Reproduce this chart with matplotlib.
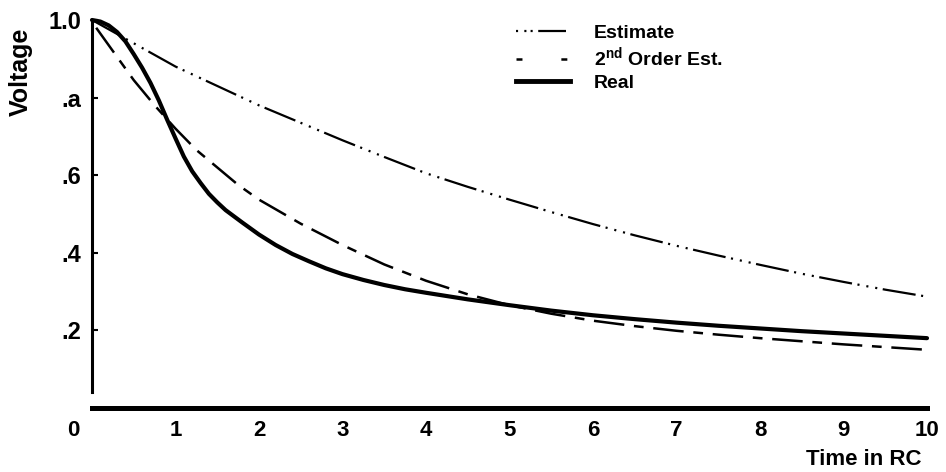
import matplotlib
matplotlib.use("Agg")
import matplotlib.pyplot as plt
from matplotlib.lines import Line2D

plt.rcParams['font.family'] = ['Liberation Sans', 'DejaVu Sans']
plt.rcParams['font.weight'] = 'bold'
plt.rcParams['axes.labelweight'] = 'bold'
plt.rcParams['mathtext.fontset'] = 'custom'
plt.rcParams['mathtext.bf'] = 'Liberation Sans:bold'
plt.rcParams['mathtext.rm'] = 'Liberation Sans:bold'
plt.rcParams['lines.scale_dashes'] = False

# curves (time in RC, voltage)
t_est = [0.0, 0.5, 1.0, 1.5, 2.0, 2.5, 3.0, 3.5, 4.0, 4.5, 5.0, 5.5, 6.0, 6.5,
         7.0, 7.5, 8.0, 8.5, 9.0, 9.5, 10.0]
v_est = [1.0, 0.94, 0.88, 0.83, 0.78, 0.735, 0.69, 0.647, 0.605, 0.57, 0.537,
         0.505, 0.474, 0.445, 0.418, 0.393, 0.369, 0.346, 0.325, 0.305, 0.287]

t_2nd = [0.05, 0.25, 0.5, 0.75, 1.0, 1.25, 1.5, 1.75, 2.0, 2.5, 3.0, 3.5, 4.0,
         4.5, 5.0, 5.5, 6.0, 6.5, 7.0, 7.5, 8.0, 8.5, 9.0, 9.5, 10.0]
v_2nd = [0.98, 0.92, 0.845, 0.78, 0.72, 0.665, 0.62, 0.575, 0.537, 0.475, 0.42,
         0.37, 0.328, 0.293, 0.265, 0.243, 0.225, 0.211, 0.199, 0.189, 0.18,
         0.172, 0.164, 0.157, 0.15]

t_real = [0.0, 0.1, 0.2, 0.3, 0.4, 0.5, 0.6, 0.7, 0.8, 0.9, 1.0, 1.1, 1.2, 1.3,
          1.4, 1.5, 1.6, 1.8, 2.0, 2.2, 2.4, 2.6, 2.8, 3.0, 3.25, 3.5, 3.75,
          4.0, 4.5, 5.0, 5.5, 6.0, 6.5, 7.0, 7.5, 8.0, 8.5, 9.0, 9.5, 10.0]
v_real = [1.0, 0.996, 0.986, 0.969, 0.945, 0.912, 0.877, 0.838, 0.793, 0.743, 0.695,
          0.648, 0.61, 0.58, 0.552, 0.53, 0.51, 0.478, 0.447, 0.42, 0.397,
          0.378, 0.36, 0.345, 0.33, 0.317, 0.306, 0.297, 0.28, 0.265, 0.251,
          0.239, 0.229, 0.22, 0.212, 0.205, 0.198, 0.192, 0.186, 0.18]

x_ticks = [1, 2, 3, 4, 5, 6, 7, 8, 9, 10]
y_ticks = [0.2, 0.4, 0.6, 0.8, 1.0]
y_labels = ['.2', '.4', '.6', '.a', '1.0']

fig = plt.figure(figsize=(9.46, 4.72), dpi=100)
ax = fig.add_axes([92 / 946, 1 - 408 / 472, 835 / 946, 388 / 472])

est_style = (0, (24, 4, 1.5, 5, 1.5, 5, 1.5, 4))
snd_style = (0, (22, 7, 7, 7))
ax.plot(t_est, v_est, color='black', lw=1.6, linestyle=est_style, clip_on=False)
ax.plot(t_2nd, v_2nd, color='black', lw=1.8, linestyle=snd_style, clip_on=False)
ax.plot(t_real, v_real, color='black', lw=3.0, solid_capstyle='round',
        solid_joinstyle='round', clip_on=False)

ax.set_xlim(0, 10)
ax.set_ylim(0, 1.0)

for side in ['top', 'right']:
    ax.spines[side].set_visible(False)
ax.spines['left'].set_linewidth(2.2)
ax.spines['left'].set_bounds(0.04, 1.0)
ax.spines['bottom'].set_linewidth(3.6)

ax.set_xticks(x_ticks)
ax.set_xticklabels([str(x) for x in x_ticks])
ax.tick_params(axis='x', length=0, pad=9, labelsize=16)
ax.set_yticks(y_ticks)
ax.set_yticklabels(y_labels)
ax.tick_params(axis='y', direction='in', length=4.5, width=1.5, pad=8, labelsize=17)

# the "0" sits left of the origin in the original
ax.annotate('0', xy=(0, 0), xycoords='data', xytext=(-19, -23),
            textcoords='offset pixels', ha='center', va='center', fontsize=16)

ax.set_xlabel('Time in RC', fontsize=16, loc='right')
ax.xaxis.set_label_coords(0.994, -0.105)
ax.set_ylabel('Voltage', fontsize=18)
ax.yaxis.set_label_coords(-0.071, 0.866)

handles = [
    Line2D([], [], color='black', lw=1.6, linestyle=(0, (1.5, 4.5, 1.5, 3, 1.5, 4, 20, 10))),
    Line2D([], [], color='black', lw=1.8, linestyle=(0, (4.3, 28, 4.3, 10))),
    Line2D([], [], color='black', lw=3.5),
]
labels = ['Estimate', r'2$^{\mathbf{nd}}$ Order Est.', 'Real']
ax.legend(handles, labels, loc='upper left', bbox_to_anchor=(516 / 946, 1 - 24 / 472),
          bbox_transform=fig.transFigure, frameon=False, fontsize=14,
          handlelength=2.8, handletextpad=1.2, labelspacing=0.2,
          borderpad=0, borderaxespad=0)

plt.savefig('out.png', dpi=100)
plt.close(fig)
